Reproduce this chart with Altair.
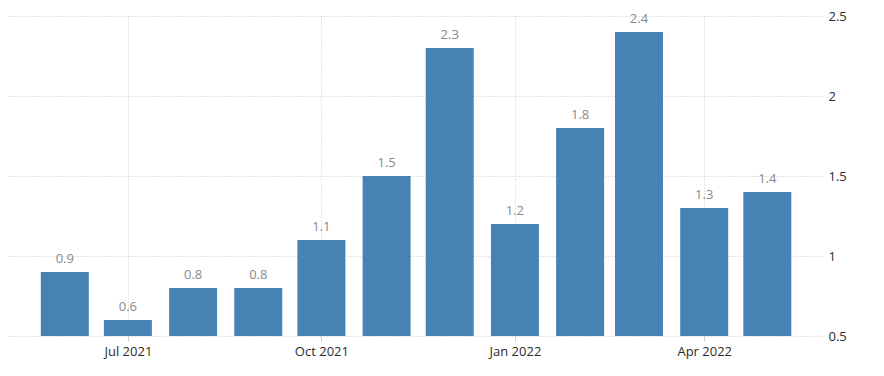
import altair as alt
import pandas as pd

months = ["2021-06-01", "2021-07-01", "2021-08-01", "2021-09-01", "2021-10-01", "2021-11-01",
          "2021-12-01", "2022-01-01", "2022-02-01", "2022-03-01", "2022-04-01", "2022-05-01"]
values = [0.9, 0.6, 0.8, 0.8, 1.1, 1.5, 2.3, 1.2, 1.8, 2.4, 1.3, 1.4]
y_ticks = [0.5, 1, 1.5, 2, 2.5]
x_ticks = [(2021, 7), (2021, 10), (2022, 1), (2022, 4)]

df = pd.DataFrame({"month": months, "value": values})

FONT = "Open Sans"

x = alt.X(
    "month:T",
    scale=alt.Scale(
        type="utc",
        padding=0,
        domain=[alt.DateTime(year=2021, month=5, date=5, utc=True),
                alt.DateTime(year=2022, month=5, date=27, utc=True)],
    ),
    axis=alt.Axis(
        title=None,
        values=[alt.DateTime(year=y, month=m, date=1, utc=True) for y, m in x_ticks],
        format="%b %Y",
        domain=False,
        ticks=True,
        tickSize=5,
        tickColor="#cccccc",
        labelPadding=4,
        labelFontSize=13,
        labelColor="#2b2b2b",
        labelFont=FONT,
        grid=True,
        gridDash=[1, 2],
        gridColor="#c8c8c8",
    ),
)

y = alt.Y(
    "value:Q",
    scale=alt.Scale(domain=[0.5, 2.5], clamp=True),
    axis=alt.Axis(
        title=None,
        orient="right",
        values=y_ticks,
        format="~g",
        domain=False,
        ticks=False,
        labelPadding=6,
        labelFontSize=13,
        labelColor="#2b2b2b",
        labelFont=FONT,
        grid=True,
        gridDash=[1, 2],
        gridColor="#c8c8c8",
    ),
)

bars = alt.Chart(df).mark_bar(size=48, color="#4682b4").encode(x=x, y=y)
labels = alt.Chart(df).mark_text(
    baseline="bottom", dy=-6, fontSize=13, color="#8a8a8a", font=FONT
).encode(x=x, y=y, text=alt.Text("value:Q", format=".1f"))

chart = (
    alt.layer(bars, labels)
    .properties(width=814, height=320, padding={"left": 0, "top": 2, "right": 5, "bottom": 5},
                background="white")
    .configure_view(stroke=None)
)

chart.save("out.html", embed_options={"renderer": "svg", "actions": False})
